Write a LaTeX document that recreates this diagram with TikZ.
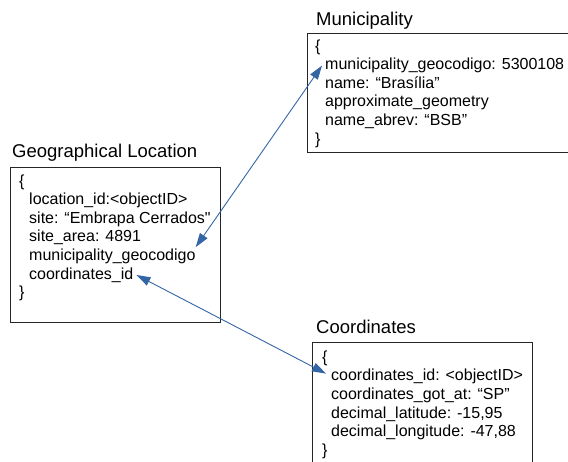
\documentclass[tikz,border=0pt]{standalone}
\usepackage{fontspec}
\setmainfont{Liberation Sans}
\usetikzlibrary{arrows.meta, positioning}
\definecolor{linkblue}{HTML}{3465A4}

\begin{document}
\begin{tikzpicture}[x=1pt, y=-1pt]
\tikzstyle{title} = [anchor=west, inner sep=0pt, font=\fontsize{18.5pt}{22pt}\selectfont]
\tikzstyle{field} = [anchor=west, inner sep=0pt, text height=13.3pt, text depth=4.9pt, font=\fontsize{16pt}{18pt}\selectfont]
\tikzstyle{frame} = [draw=black!85, line width=1pt]
\tikzstyle{link} = [draw=linkblue, line width=0.9pt, {Triangle[length=14pt,width=9pt]}-{Triangle[length=14pt,width=9pt]}]

\clip (0,0) rectangle (568,462);

% municipality
\node[title] (muni) at (316,21) {Municipality};
\draw[frame] (307,34) rectangle (600,153);
\node[field] (muni-open) at (315,47) {\{};
\node[field, below right=0pt and 10pt of muni-open.south west] (muni-code) {municipality\_geocodigo: 5300108};
\node[field, below right=0pt and 0pt of muni-code.south west] (muni-name) {name: “Brasília”};
\node[field, below right=0pt and 0pt of muni-name.south west] (muni-geom) {approximate\_geometry};
\node[field, below right=0pt and 0pt of muni-geom.south west] (muni-abrev) {name\_abrev: “BSB”};
\node[field, below left=0pt and 10pt of muni-abrev.south west, anchor=north west] (muni-close) {\}};

% geographical location
\node[title] (geo) at (12,153) {Geographical Location};
\draw[frame] (10,168) rectangle (220,323);
\node[field] (geo-open) at (19,182) {\{};
\node[field, below right=0pt and 10pt of geo-open.south west] (geo-id) {location\_id:<objectID>};
\node[field, below right=0pt and 0pt of geo-id.south west] (geo-site) {site: “Embrapa Cerrados\textquotedbl};
\node[field, below right=0pt and 0pt of geo-site.south west] (geo-area) {site\_area: 4891};
\node[field, below right=0pt and 0pt of geo-area.south west] (geo-muni) {municipality\_geocodigo};
\node[field, below right=0pt and 0pt of geo-muni.south west] (geo-coord) {coordinates\_id};
\node[field, below left=0pt and 10pt of geo-coord.south west, anchor=north west] (geo-close) {\}};

% coordinates
\node[title] (coord) at (316,327) {Coordinates};
\draw[frame] (312,343) rectangle (532,500);
\node[field] (coord-open) at (322,358) {\{};
\node[field, below right=0pt and 9pt of coord-open.south west] (coord-id) {coordinates\_id: <objectID>};
\node[field, below right=0pt and 0pt of coord-id.south west] (coord-got) {coordinates\_got\_at: “SP”};
\node[field, below right=0pt and 0pt of coord-got.south west] (coord-lat) {decimal\_latitude: -15,95};
\node[field, below right=0pt and 0pt of coord-lat.south west] (coord-lon) {decimal\_longitude: -47,88};
\node[field, below left=0pt and 9pt of coord-lon.south west, anchor=north west] (coord-close) {\}};

\draw[link] (geo-muni.north east) -- ([xshift=-3pt]muni-code.west);
\draw[link] ([xshift=3pt]geo-coord.east) -- ([xshift=-5pt,yshift=3pt]coord-id.west);
\end{tikzpicture}
\end{document}
